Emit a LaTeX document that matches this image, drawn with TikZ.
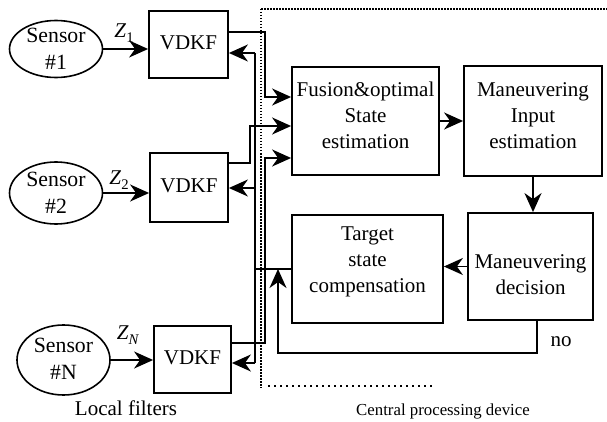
\documentclass[tikz,border=0pt]{standalone}
\usepackage{fontspec}
\usepackage{graphicx}
\setmainfont{Liberation Serif}
\usetikzlibrary{arrows.meta,shapes.geometric}

% text is set at 15pt and enlarged, so every label keeps the same face
\newcommand{\bigtxt}[2][1.4]{\scalebox{#1}{\fontsize{15}{18.6}\selectfont\begin{tabular}{@{}c@{}}#2\end{tabular}}}
\newcommand{\zsub}[1]{\textit{Z}\raisebox{-3.5pt}{\fontsize{10.5}{10.5}\selectfont #1}}

\begin{document}
\begin{tikzpicture}[x=1pt,y=-1pt,
  wire/.style={line width=1.8pt},
  arr/.style={wire,-{Stealth[length=19pt,width=17pt,inset=6pt]}},
  blk/.style={draw,line width=1.8pt,inner sep=0pt},
  sens/.style={draw,ellipse,line width=1.6pt,inner sep=0pt,minimum width=93pt},
  txt/.style={align=center,inner sep=0pt},
  frame/.style={line width=1.2pt,dash pattern=on 1.5pt off 1.5pt}]
\useasboundingbox (0,0) rectangle (607,422);

% dotted outline of the central processing device
\draw[frame] (261,9) -- (607,9);
\draw[frame] (261,9) -- (261,388);
\draw[line width=1.2pt,dash pattern=on 2pt off 4pt] (268,386) -- (432,386);

% sensors
\node[sens,minimum height=57pt] (s1) at (56,49) {};
\node[txt] (s1t) at (56,51) {\bigtxt[1.45]{Sensor\\\#1}};
\node[sens,minimum height=62pt] (s2) at (56,193) {};
\node[txt] (s2t) at (56,195) {\bigtxt[1.45]{Sensor\\\#2}};
\node[sens,minimum height=70pt] (sN) at (63.5,360) {};
\node[txt] (sNt) at (63.5,361) {\bigtxt[1.45]{Sensor\\\#N}};

% local filters
\node[blk,minimum width=79pt,minimum height=67pt] (v1) at (188.5,44.5) {};
\node[txt] (v1t) at (v1) {\bigtxt{VDKF}};
\node[blk,minimum width=78pt,minimum height=69pt] (v2) at (189,187.5) {};
\node[txt] (v2t) at (v2) {\bigtxt{VDKF}};
\node[blk,minimum width=77pt,minimum height=67pt] (vN) at (192.5,359.5) {};
\node[txt] (vNt) at (vN) {\bigtxt{VDKF}};

% central blocks
\node[blk,minimum width=147pt,minimum height=108pt] (fus) at (365.5,121) {};
\node[txt] (fust) at (365.5,117) {\bigtxt{Fusion\&optimal\\State\\estimation}};
\node[blk,minimum width=138pt,minimum height=110pt] (inp) at (533,121) {};
\node[txt] (inpt) at (533,117) {\bigtxt{Maneuvering\\Input\\estimation}};
\node[blk,minimum width=151pt,minimum height=108pt] (tgt) at (367.5,269) {};
\node[txt] (tgtt) at (367.5,261) {\bigtxt{Target\\state\\compensation}};
\node[blk,minimum width=125pt,minimum height=107pt] (dec) at (530.5,266.5) {};
\node[txt] (dect) at (530.5,276) {\bigtxt{Maneuvering\\decision}};

% measurement labels
\node[txt] (z1) at (124,32) {\bigtxt{\zsub{1}}};
\node[txt] (z2) at (119,179) {\bigtxt{\zsub{2}}};
\node[txt] (zN) at (128,334) {\bigtxt{\zsub{\textit{N}}}};

% sensors to filters
\draw[arr] (s1.east) -- (s1.east -| v1.west);
\draw[arr] (s2.east) -- (s2.east -| v2.west);
\draw[arr] (sN.east) -- (sN.east -| vN.west);

% filter outputs to fusion
\coordinate (o1) at (265,32);  \coordinate (i1) at (265,97);
\coordinate (o2) at (250,163); \coordinate (i2) at (250,126);
\coordinate (o3) at (265,343); \coordinate (i3) at (265,158);
\draw[arr] (o1 -| v1.east) -- (o1) -- (i1) -- (i1 -| fus.west);
\draw[arr] (o2 -| v2.east) -- (o2) -- (i2) -- (i2 -| fus.west);
\draw[arr] (o3 -| vN.east) -- (o3) -- (i3) -- (i3 -| fus.west);

% central chain
\draw[arr] (fus.east) -- (fus.east -| inp.west);
\draw[arr] (inp.south) -- (inp.south |- dec.north);
\draw[arr] (dec.west) -- (dec.west -| tgt.east);

% feedback bus to the filters
\coordinate (bt) at (255,53);
\coordinate (bm) at (255,188);
\coordinate (bb) at (255,363);
\draw[wire] (tgt.west) -- (tgt.west -| bt);
\draw[wire] (bt) -- (bb);
\draw[arr] (bt) -- (bt -| v1.east);
\draw[arr] (bm) -- (bm -| v2.east);
\draw[arr] (bb) -- (bb -| vN.east);

% no-manoeuvre return path
\coordinate (n1) at (537,353);
\coordinate (n2) at (278,353);
\draw[arr] (n1 |- dec.south) -- (n1) -- (n2) -- (n2 |- tgt.west);
\node[txt] (no) at (561,341) {\bigtxt{no}};

% captions
\node[txt] (lf) at (126,410) {\bigtxt{Local filters}};
\node[txt] (cpd) at (443,411) {\bigtxt[1.12]{Central processing device}};
\end{tikzpicture}
\end{document}
